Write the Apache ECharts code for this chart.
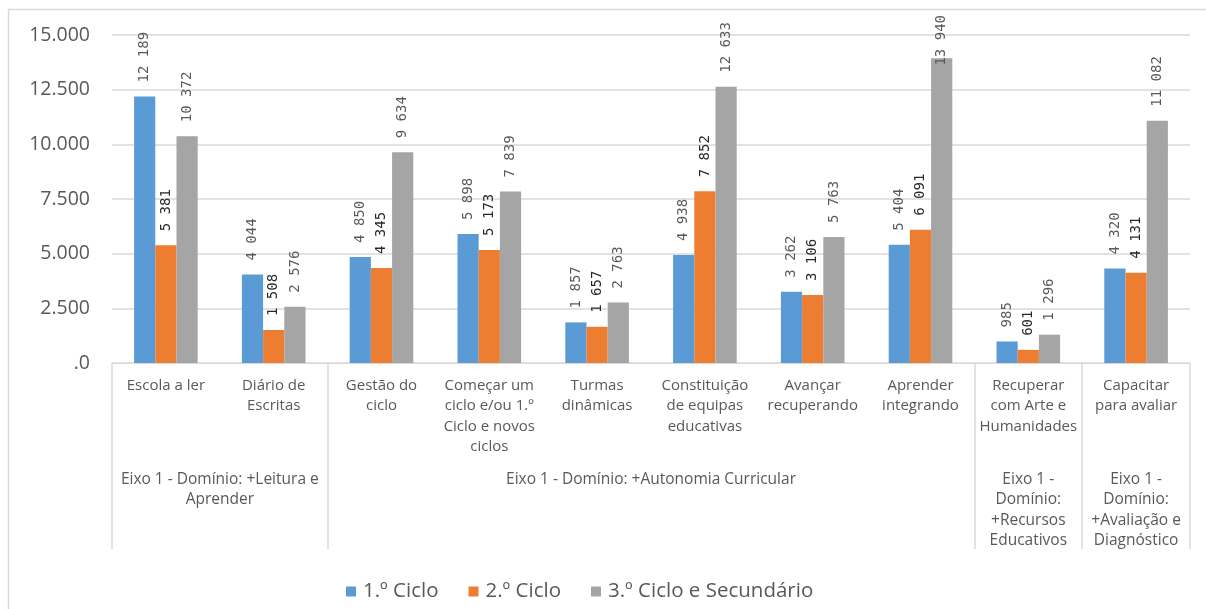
<!DOCTYPE html>
<html>
<head>
<meta charset="utf-8">
<script src="https://cdn.jsdelivr.net/npm/echarts@6/dist/echarts.min.js"></script>
<style>
html,body{margin:0;padding:0;background:#fff;}
#chart{width:1206px;height:609px;}
</style>
</head>
<body>
<div id="chart"></div>
<script>
var categories = [
  "Escola a ler",
  "Diário de\nEscritas",
  "Gestão do\nciclo",
  "Começar um\nciclo e/ou 1.º\nCiclo e novos\nciclos",
  "Turmas\ndinâmicas",
  "Constituição\nde equipas\neducativas",
  "Avançar\nrecuperando",
  "Aprender\nintegrando",
  "Recuperar\ncom Arte e\nHumanidades",
  "Capacitar\npara avaliar"
];
var groupLabels = [
  "Eixo 1 - Domínio: +Leitura e\nAprender",
  "Eixo 1 - Domínio: +Autonomia Curricular",
  "Eixo 1 -\nDomínio:\n+Recursos\nEducativos",
  "Eixo 1 -\nDomínio:\n+Avaliação e\nDiagnóstico"
];
var groupSizes = [2, 6, 1, 1];
var seriesNames = ["1.º Ciclo", "2.º Ciclo", "3.º Ciclo e Secundário"];
var ciclo1 = [12189, 4044, 4850, 5898, 1857, 4938, 3262, 5404, 985, 4320];
var ciclo2 = [5381, 1508, 4345, 5173, 1657, 7852, 3106, 6091, 601, 4131];
var ciclo3 = [10372, 2576, 9634, 7839, 2763, 12633, 5763, 13940, 1296, 11082];
var yTicks = [0, 2500, 5000, 7500, 10000, 12500, 15000];

// group boundaries & centers in category units
var bounds = [0], centers = [], acc = 0;
groupSizes.forEach(function (s) { centers.push(acc + s / 2); acc += s; bounds.push(acc); });
var centerLabel = {};
centers.forEach(function (c, i) { centerLabel[c] = groupLabels[i]; });

function fmtSpace(v) { return String(v).replace(/\B(?=(\d{3})+(?!\d))/g, ' '); }
function fmtDot(v) { return v === 0 ? '.0' : String(v).replace(/\B(?=(\d{3})+(?!\d))/g, '.'); }

var colors = ['#5B9BD5', '#ED7D31', '#A5A5A5'];
var labelColors = ['#595959', '#262626', '#595959'];
var catFont = '"Open Sans", Lato, sans-serif';
var LABEL_DIST = 14;
var LABEL_TOP_LIMIT = 15;

function makeSeries(name, data, idx) {
  return {
    name: name, type: 'bar', data: data, xAxisIndex: 0, yAxisIndex: 0,
    barGap: '0%', barCategoryGap: '41%',
    itemStyle: { color: colors[idx] },
    label: {
      show: true, position: 'top', rotate: 90, align: 'left', verticalAlign: 'middle',
      distance: LABEL_DIST, color: labelColors[idx], fontFamily: '"DejaVu Sans Mono", monospace',
      fontSize: 14, formatter: function (p) { return fmtSpace(p.value); }
    },
    labelLayout: function (params) {
      if (!params.rect || !params.labelRect) return {};
      var r = params.rect;
      var barTop = Math.min(r.y, r.y + r.height);
      var len = Math.max(params.labelRect.width, params.labelRect.height);
      var top = barTop - LABEL_DIST - len;
      if (top < LABEL_TOP_LIMIT) {
        return { x: r.x + r.width / 2, y: LABEL_TOP_LIMIT + len };
      }
      return {};
    }
  };
}

var chart = echarts.init(document.getElementById('chart'), null, { renderer: 'canvas' });
chart.setOption({
  animation: false,
  backgroundColor: '#fff',
  color: colors,
  graphic: [{
    type: 'rect', silent: true, z: -10,
    shape: { x: 8.5, y: 9.5, width: 1400, height: 800 },
    style: { fill: 'none', stroke: '#D9D9D9', lineWidth: 1.5 }
  }],
  grid: { left: 112, right: 16, top: 35, bottom: 246 },
  legend: {
    left: 341, top: 576, itemWidth: 10, itemHeight: 10, itemGap: 30,
    icon: 'rect',
    textStyle: { fontFamily: catFont, fontSize: 20.5, color: '#595959', padding: [0, 0, 0, 2] },
    data: seriesNames
  },
  xAxis: [{
    type: 'category', data: categories, position: 'bottom',
    axisLine: { show: true, lineStyle: { color: '#D9D9D9', width: 1 } },
    axisTick: { show: false },
    axisLabel: {
      interval: 0, margin: 12, color: '#595959', fontFamily: catFont, fontSize: 15,
      lineHeight: 20.5, align: 'center'
    }
  }, {
    type: 'value', min: 0, max: categories.length, position: 'bottom',
    axisLine: { show: false },
    splitLine: { show: false },
    axisTick: {
      show: true, inside: false, length: 186, customValues: bounds,
      lineStyle: { color: '#D9D9D9', width: 1.5 }
    },
    axisLabel: {
      show: true, margin: 106, customValues: centers, color: '#595959',
      fontFamily: catFont, fontSize: 15.5, lineHeight: 20.5, align: 'center',
      formatter: function (v) { return centerLabel[v] || ''; }
    }
  }],
  yAxis: {
    type: 'value', min: yTicks[0], max: yTicks[yTicks.length - 1], interval: 2500,
    axisLine: { show: false }, axisTick: { show: false },
    splitLine: { lineStyle: { color: '#D9D9D9', width: 1.5 } },
    axisLabel: {
      margin: 22, color: '#595959', fontFamily: catFont, fontSize: 19.5,
      formatter: function (v) { return fmtDot(v); }
    }
  },
  series: [
    makeSeries(seriesNames[0], ciclo1, 0),
    makeSeries(seriesNames[1], ciclo2, 1),
    makeSeries(seriesNames[2], ciclo3, 2)
  ]
});
</script>
</body>
</html>
